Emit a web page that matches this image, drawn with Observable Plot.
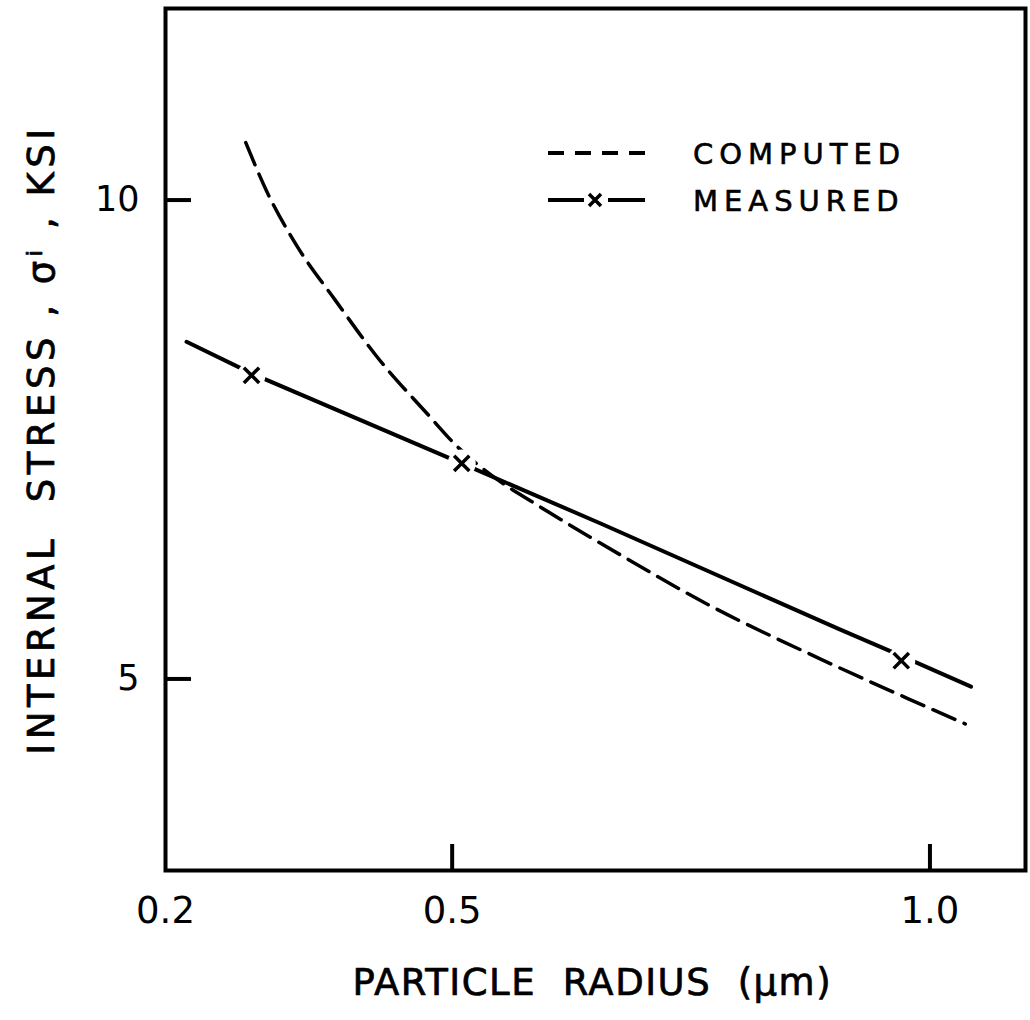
<!DOCTYPE html>
<html>
<head>
<meta charset="utf-8">
<script src="https://cdn.jsdelivr.net/npm/d3@7"></script>
<script src="https://cdn.jsdelivr.net/npm/@observablehq/plot@0.6"></script>
<style>
  html, body { margin: 0; padding: 0; background: #fff; }
  #wrap { position: relative; width: 1030px; height: 1020px; }
  #wrap svg text { white-space: pre; }
  #legend { position: absolute; left: 0; top: 0; }
  .xlab text { letter-spacing: 1.5px; }
  .ylab text { letter-spacing: 4.5px; }
</style>
</head>
<body>
<div id="wrap"></div>
<script>
// ---- data ----
const xTicks = [0.2, 0.5, 1.0];
const yTicks = [5, 10];
const xDomain = [0.2, 1.1];
const yDomain = [3, 12];

const computedX = [0.284, 0.306, 0.337, 0.378, 0.424, 0.472, 0.507, 0.542, 0.59, 0.677, 0.767, 0.885, 0.978, 1.037];
const computedY = [10.60, 10.09, 9.53, 8.95, 8.33, 7.79, 7.41, 7.12, 6.81, 6.29, 5.78, 5.21, 4.79, 4.53];

const measuredLineX = [0.222, 0.29, 0.51, 0.656, 0.905, 0.97, 1.043];
const measuredLineY = [8.52, 8.19, 7.25, 6.62, 5.52, 5.24, 4.92];

const markerX = [0.29, 0.51, 0.97];
const markerY = [8.17, 7.25, 5.19];

const seriesNames = ["COMPUTED", "MEASURED"];
const xLabel = "PARTICLE  RADIUS  (μm)";
const yLabel = "INTERNAL  STRESS , σⁱ , KSI";

// ---- build tables ----
const computed = computedX.map((x, i) => ({x, y: computedY[i]}));
const measured = measuredLineX.map((x, i) => ({x, y: measuredLineY[i]}));
const markers = markerX.map((x, i) => ({x, y: markerY[i]}));

const W = 1030, H = 1020;
const mL = 165, mR = 5, mT = 8, mB = 150;
const font = "DejaVu Sans";
const textStroke = {stroke: "#000", strokeWidth: 0.7};

const chart = Plot.plot({
  width: W, height: H,
  marginLeft: mL, marginRight: mR, marginTop: mT, marginBottom: mB,
  style: {fontFamily: font, color: "#000", background: "#fff"},
  x: {type: "linear", domain: xDomain},
  y: {type: "linear", domain: yDomain},
  marks: [
    Plot.line(computed, {x: "x", y: "y", stroke: "#000", strokeWidth: 3.5, strokeDasharray: "24,10", curve: "monotone-x"}),
    Plot.line(measured, {x: "x", y: "y", stroke: "#000", strokeWidth: 4, curve: "linear"}),
    Plot.dot(markers, {x: "x", y: "y", r: 14, fill: "#fff", stroke: null}),
    Plot.dot(markers, {x: "x", y: "y", symbol: "times", r: 7, stroke: "#000", strokeWidth: 3.5}),
    Plot.frame({stroke: "#000", strokeWidth: 4}),
    // inward ticks
    Plot.tickX(xTicks.filter(d => d > xDomain[0]), {x: d => d, stroke: "#000", strokeWidth: 4, insetTop: (H - mT - mB) - 26}),
    Plot.tickY(yTicks, {y: d => d, stroke: "#000", strokeWidth: 4, insetRight: (W - mL - mR) - 26}),
    Plot.axisX({ticks: xTicks, tickSize: 0, tickPadding: 26, tickFormat: d => d.toFixed(1), fontSize: 37, label: null, ...textStroke}),
    Plot.axisY({ticks: yTicks, tickSize: 0, tickPadding: 26, tickFormat: d => String(d), fontSize: 35, label: null, ...textStroke}),
    Plot.text([xLabel], {text: d => d, className: "xlab", frameAnchor: "bottom-left", dx: 187, dy: 113, textAnchor: "start", lineAnchor: "middle", fontSize: 37, fill: "#000", ...textStroke}),
    Plot.text([yLabel], {text: d => d, className: "ylab", frameAnchor: "left", dx: -123, dy: 0, rotate: -90, lineAnchor: "middle", textAnchor: "middle", fontSize: 37, fill: "#000", ...textStroke})
  ]
});
document.getElementById("wrap").appendChild(chart);

// ---- legend overlay ----
const ns = "http://www.w3.org/2000/svg";
const lg = document.createElementNS(ns, "svg");
lg.setAttribute("id", "legend");
lg.setAttribute("width", W);
lg.setAttribute("height", H);
lg.style.pointerEvents = "none";
function el(tag, attrs, parent) {
  const e = document.createElementNS(ns, tag);
  for (const k in attrs) e.setAttribute(k, attrs[k]);
  parent.appendChild(e);
  return e;
}
const rows = [
  {name: seriesNames[0], y: 153, dashed: true},
  {name: seriesNames[1], y: 200, dashed: false}
];
for (const r of rows) {
  if (r.dashed) {
    el("line", {x1: 548, x2: 645, y1: r.y, y2: r.y, stroke: "#000", "stroke-width": 4, "stroke-dasharray": "16,11"}, lg);
  } else {
    el("line", {x1: 548, x2: 584, y1: r.y, y2: r.y, stroke: "#000", "stroke-width": 4}, lg);
    el("line", {x1: 608, x2: 645, y1: r.y, y2: r.y, stroke: "#000", "stroke-width": 4}, lg);
    el("path", {d: `M${589},${r.y - 6}L${601},${r.y + 6}M${601},${r.y - 6}L${589},${r.y + 6}`, stroke: "#000", "stroke-width": 3.5, fill: "none"}, lg);
  }
  const t = el("text", {x: 693, y: r.y + 10.5, "font-family": font, "font-size": 29, "letter-spacing": "6px", fill: "#000", stroke: "#000", "stroke-width": 0.6}, lg);
  t.textContent = r.name;
}
document.getElementById("wrap").appendChild(lg);
</script>
</body>
</html>
